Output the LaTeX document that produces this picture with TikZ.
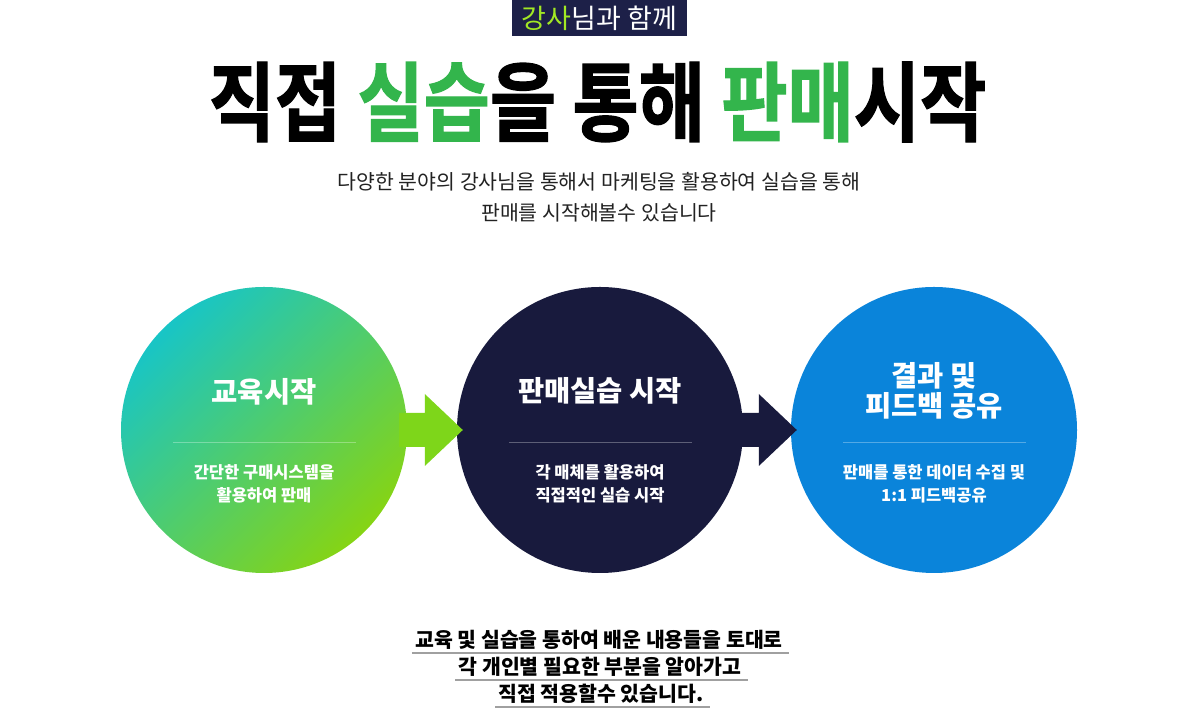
\documentclass[tikz,border=0pt]{standalone}
\usepackage{fontspec}
\setmainfont{Noto Sans CJK KR}
\newfontfamily\heavyfont[UprightFont=* Bold, FakeBold=1.5]{Noto Sans CJK KR}
\usetikzlibrary{calc}
\definecolor{navy}{HTML}{1D2048}
\definecolor{marine}{HTML}{181A3D}
\definecolor{bleu}{HTML}{0A84DA}
\definecolor{vert}{HTML}{33B54C}
\definecolor{citron}{HTML}{A2E824}
\definecolor{lime}{HTML}{7ED61A}
\definecolor{turquoise}{HTML}{18C5C6}
\definecolor{anis}{HTML}{86D414}
\definecolor{gris}{HTML}{A0A0A0}
\definecolor{encre}{HTML}{222222}

\begin{document}
\begin{tikzpicture}[x=1pt, y=1pt,
    rond/.style={circle, minimum size=286pt, inner sep=0pt},
    titre/.style={text=white, font=\bfseries\fontsize{28.5}{30}\selectfont, align=center},
    texte/.style={text=white, font=\bfseries\fontsize{16.5}{23}\selectfont, align=center},
    trait/.style={white, opacity=0.3, line width=0.8pt},
    ligne/.style={text=black, font=\bfseries\fontsize{20.5}{21}\selectfont, inner sep=0pt},
    souligne/.style={gris, line width=2.2pt}]
    % Fond
    \fill[white] (0,0) rectangle (1200,714);

    % Bandeau du haut
    \node[fill=navy, minimum width=175pt, minimum height=36pt, inner sep=0pt,
          font=\fontsize{27}{27}\selectfont, text=white] (B) at (599.5,696)
          {{\color{citron}강사}님과 함께};

    % Titre
    \node (T) at (597.5,612) {\scalebox{1}[1.2]{\heavyfont\fontsize{72}{72}\selectfont
          직접 {\color{vert}실습}을 통해 {\color{vert}판매}시작}};

    % Sous-titre
    \node[text=encre, font=\fontsize{20.5}{31}\selectfont, align=center] (S) at (599,516.5)
          {다양한 분야의 강사님을 통해서 마케팅을 활용하여 실습을 통해\\판매를 시작해볼수 있습니다};

    % Les trois cercles
    \coordinate (O1) at (264,284);
    \coordinate (O2) at (600,284);
    \coordinate (O3) at (934,284);
    \node[rond, top color=turquoise, bottom color=anis, shading angle=45] (C1) at (O1) {};
    \node[rond, fill=marine] (C2) at (O2) {};
    \node[rond, fill=bleu] (C3) at (O3) {};

    % Fleches entre les cercles
    \fill[lime] ($(C1.east)+(-8,17)$) -- ($(C2.west)+(-32,17)$) -- ($(C2.west)+(-32,36)$)
          -- ($(C2.west)+(6,0)$) -- ($(C2.west)+(-32,-36)$) -- ($(C2.west)+(-32,-17)$)
          -- ($(C1.east)+(-8,-17)$) -- cycle;
    \fill[marine] ($(C2.east)+(-8,17)$) -- ($(C3.west)+(-32,17)$) -- ($(C3.west)+(-32,36)$)
          -- ($(C3.west)+(6,0)$) -- ($(C3.west)+(-32,-36)$) -- ($(C3.west)+(-32,-17)$)
          -- ($(C2.east)+(-8,-17)$) -- cycle;

    % Textes des cercles
    \node[titre] (t1) at ($(O1)+(0,38)$) {교육시작};
    \node[titre] (t2) at ($(O2)+(0,39)$) {판매실습 시작};
    \node[titre] (t3) at ($(O3)+(0,39)$) {결과 및\\피드백 공유};
    \foreach \c in {O1,O2,O3}
        \draw[trait] ($(\c)+(-91,-12)$) -- ($(\c)+(92,-12)$);
    \node[texte] (d1) at ($(O1)+(0,-53.5)$) {간단한 구매시스템을\\활용하여 판매};
    \node[texte] (d2) at ($(O2)+(0,-53.5)$) {각 매체를 활용하여\\직접적인 실습 시작};
    \node[texte] (d3) at ($(O3)+(0,-53.5)$) {판매를 통한 데이터 수집 및\\1:1 피드백공유};

    % Texte du bas, souligne
    \node[ligne] (L1) at (599,74) {교육 및 실습을 통하여 배운 내용들을 토대로};
    \node[ligne] (L2) at (600,47) {각 개인별 필요한 부분을 알아가고};
    \node[ligne] (L3) at (601,20) {직접 적용할수 있습니다.};
    \foreach \l in {L1,L2,L3}
        \draw[souligne] ($(\l.south west)+(-3,-3)$) -- ($(\l.south east)+(6,-3)$);
\end{tikzpicture}
\end{document}
